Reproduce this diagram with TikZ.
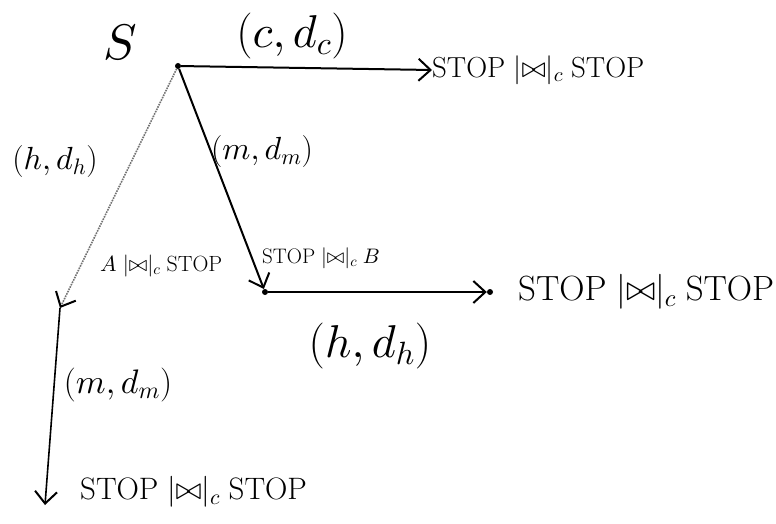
\RequirePackage{fix-cm}
\documentclass[tikz,border=0pt]{standalone}
\usetikzlibrary{arrows.meta}
\DeclareFontShape{OML}{cmm}{m}{it}{<->cmmi10}{}
\DeclareFontShape{OMS}{cmsy}{m}{n}{<->cmsy10}{}
\newcommand{\stp}{\mathrm{STOP}}
\newcommand{\pc}{\mathrel{|\mkern-5mu\bowtie\mkern-5mu|_{c}}}
\begin{document}
\begin{tikzpicture}[x=1pt,y=-1pt,
  edge/.style={line width=2pt,-{Straight Barb[length=12pt,width=22pt,line width=2pt]}},
  faint/.style={line width=1.6pt,black!55,densely dotted,-{Straight Barb[length=12pt,width=22pt,line width=2pt,black]}},
  dot/.style={circle,fill,inner sep=0pt,minimum size=6pt},
  lab/.style={inner sep=0pt}]
\useasboundingbox (0,0) rectangle (776,524);
% states
\node[dot] (s) at (178,66) {};
\node[dot] (m) at (265,292) {};
\node[dot] (e2) at (490,292) {};
\coordinate (l) at (60,308);
\coordinate (d3) at (45,505);
% state labels
\node[lab,font=\fontsize{50}{56}\selectfont] (sl) at (120,42) {$S$};
\node[lab,anchor=west,font=\fontsize{29}{34}\selectfont] (t1) at (432,70) {$\stp\pc\stp$};
\node[lab,anchor=west,font=\fontsize{35}{40}\selectfont] (t2) at (518,292) {$\stp\pc\stp$};
\node[lab,anchor=west,font=\fontsize{31}{36}\selectfont] (t3) at (80,492) {$\stp\pc\stp$};
\node[lab,anchor=west,font=\fontsize{21}{26}\selectfont] (ml) at (262,258) {$\stp\pc B$};
\node[lab,anchor=west,font=\fontsize{22}{26}\selectfont] (ll) at (100,266) {$A\pc\stp$};
% edges
\draw[edge] (s) -- (t1.west);
\draw[edge] (s) -- (m);
\draw[edge] (m) -- (e2);
\draw[faint] (s) -- (l);
\draw[edge,line width=1.6pt] (l) -- (d3);
% edge labels
\node[lab,font=\fontsize{46}{52}\selectfont] (c1) at (292,36) {$(c,d_c)$};
\node[lab,font=\fontsize{32}{38}\selectfont] (c2) at (262,152) {$(m,d_m)$};
\node[lab,font=\fontsize{32}{38}\selectfont] (c3) at (55,162) {$(h,d_h)$};
\node[lab,font=\fontsize{46}{52}\selectfont] (c4) at (370,346) {$(h,d_h)$};
\node[lab,font=\fontsize{34}{40}\selectfont] (c5) at (118,385) {$(m,d_m)$};
\end{tikzpicture}
\end{document}
